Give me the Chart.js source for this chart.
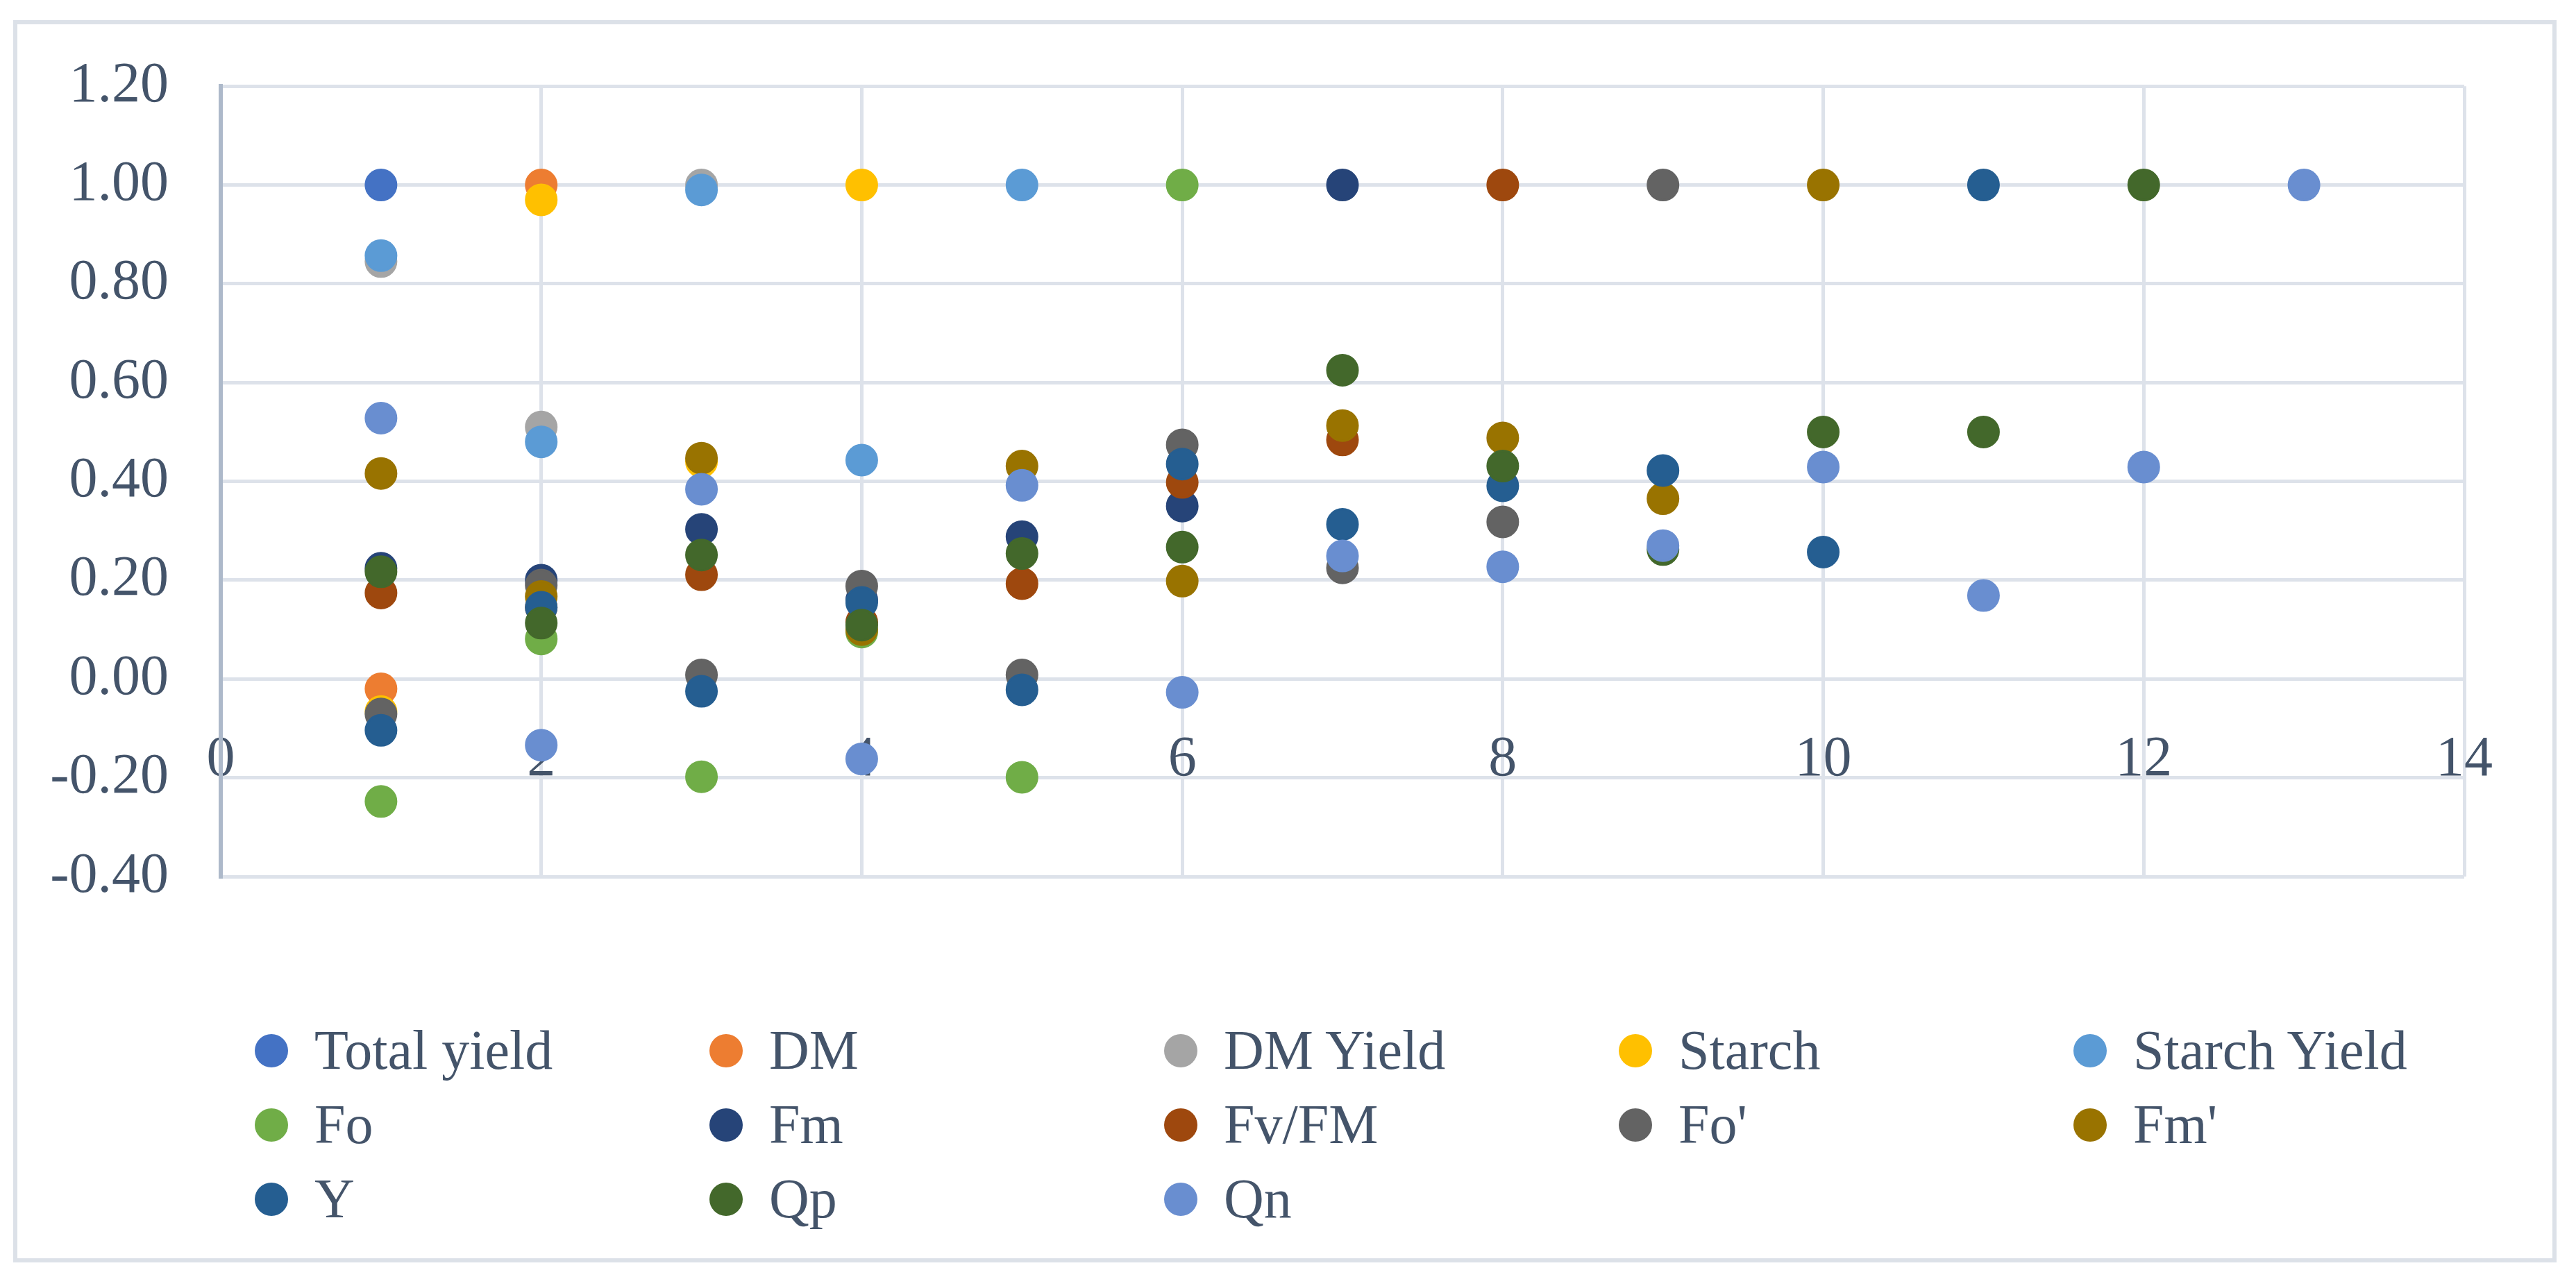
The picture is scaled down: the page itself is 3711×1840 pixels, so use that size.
<!DOCTYPE html>
<html>
<head>
<meta charset="utf-8">
<script src="https://cdn.jsdelivr.net/npm/chart.js@4.4.1/dist/chart.umd.min.js"></script>
<style>
  body { margin: 0; background: #fff; }
  #moldura { position: absolute; left: 19px; top: 29px; width: 3652px; height: 1778px; border: 6px solid #DCE1E8; }
  #grafico { position: absolute; left: 0; top: 0; }
  #legenda {
    position: absolute; left: 367px; top: 1460px;
    display: grid; grid-template-columns: repeat(5, 655px); grid-auto-rows: 107px;
    font-family: 'Liberation Serif', serif; font-size: 80px; color: #44546A;
  }
  .item { display: flex; align-items: center; white-space: nowrap; }
  .marca { width: 48px; height: 48px; border-radius: 50%; margin-right: 38px; flex: none; }
</style>
</head>
<body>
<div id="moldura"></div>
<canvas id="grafico" width="3711" height="1840"></canvas>
<div id="legenda"></div>
<script>
// series (cada uma tem valores em x = 1..n)
const nomes = ['Total yield', 'DM', 'DM Yield', 'Starch', 'Starch Yield', 'Fo', 'Fm', 'Fv/FM', "Fo'", "Fm'", 'Y', 'Qp', 'Qn'];
const cores = ['#4472C4', '#ED7D31', '#A5A5A5', '#FFC000', '#5B9BD5', '#70AD47', '#264478', '#9E480E', '#636363', '#997300', '#255E91', '#43682B', '#698ED0'];

const totalYield = [1.00];
const dm = [-0.02, 1.00];
const dmYield = [0.845, 0.51, 1.00];
const starch = [-0.066, 0.97, 0.44, 1.00];
const starchYield = [0.857, 0.48, 0.99, 0.443, 1.00];
const fo = [-0.248, 0.081, -0.198, 0.095, -0.199, 1.00];
const fm = [0.224, 0.20, 0.303, 0.16, 0.288, 0.35, 1.00];
const fvFm = [0.174, 0.145, 0.211, 0.115, 0.193, 0.398, 0.484, 1.00];
const foLinha = [-0.071, 0.19, 0.008, 0.188, 0.008, 0.474, 0.225, 0.318, 1.00];
const fmLinha = [0.416, 0.167, 0.447, 0.10, 0.431, 0.198, 0.513, 0.488, 0.365, 1.00];
const y = [-0.104, 0.145, -0.025, 0.155, -0.022, 0.435, 0.313, 0.391, 0.422, 0.257, 1.00];
const qp = [0.217, 0.113, 0.251, 0.109, 0.254, 0.267, 0.625, 0.431, 0.262, 0.50, 0.50, 1.00];
const qn = [0.528, -0.134, 0.384, -0.162, 0.392, -0.027, 0.249, 0.227, 0.270, 0.429, 0.169, 0.429, 1.00];

const series = [totalYield, dm, dmYield, starch, starchYield, fo, fm, fvFm, foLinha, fmLinha, y, qp, qn];

// eixos
const eixoX = { min: 0, max: 14, passo: 2 };
const eixoY = { min: -0.4, max: 1.2, passo: 0.2 };

const corTexto = '#44546A';
const corGrade = '#DDE2EA';
const fonte = { family: "'Liberation Serif', serif", size: 82 };

const datasets = series.map((valores, i) => ({
    label: nomes[i],
    data: valores.map((v, j) => ({ x: j + 1, y: v })),
    backgroundColor: cores[i],
    borderColor: cores[i],
    pointRadius: 22,
    pointBorderWidth: 3,
    // excel desenha a ultima serie por cima
    order: series.length - i
}));

const grafico = new Chart(document.getElementById('grafico'), {
    type: 'scatter',
    data: { datasets },
    options: {
        responsive: false,
        devicePixelRatio: 1,
        animation: false,
        layout: { padding: { left: 0, top: 121, right: 161, bottom: 577 } },
        plugins: { legend: { display: false }, tooltip: { enabled: false } },
        scales: {
            x: {
                type: 'linear',
                position: { y: 0 },
                min: eixoX.min,
                max: eixoX.max,
                afterFit: s => { s.height = 0; },
                ticks: { stepSize: eixoX.passo, color: corTexto, font: fonte, padding: 68 },
                grid: { color: corGrade, lineWidth: 5, drawTicks: false },
                border: { display: false }
            },
            y: {
                min: eixoY.min,
                max: eixoY.max,
                afterFit: s => { s.width = 318; },
                ticks: {
                    stepSize: eixoY.passo,
                    color: corTexto,
                    font: fonte,
                    padding: 75,
                    callback: v => (Math.abs(v) < 1e-9 ? 0 : v).toFixed(2)
                },
                grid: { color: corGrade, lineWidth: 5, drawTicks: false },
                border: { display: true, color: '#ADB9CA', width: 6 }
            }
        }
    }
});

// legenda em html p/ ficar em colunas fixas
const legenda = document.getElementById('legenda');
grafico.data.datasets.forEach(ds => {
    const item = document.createElement('div');
    item.className = 'item';
    item.innerHTML = `<span class="marca" style="background:${ds.backgroundColor}"></span><span>${ds.label}</span>`;
    legenda.appendChild(item);
});
</script>
</body>
</html>
